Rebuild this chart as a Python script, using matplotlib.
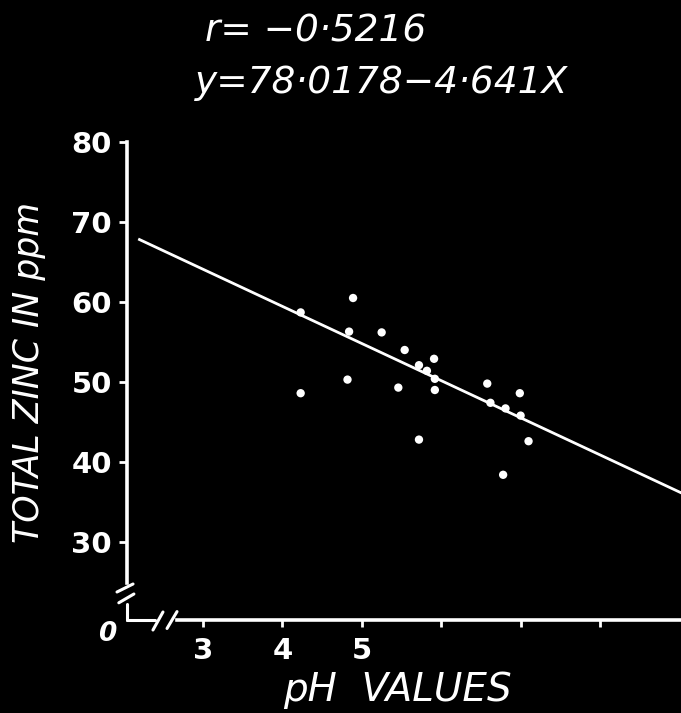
import matplotlib
matplotlib.use("Agg")
import matplotlib.pyplot as plt
import numpy as np

# ---- data ----
ph_values = [4.89, 4.23, 4.84, 5.25, 5.54, 5.91, 5.72, 5.82, 5.92, 4.82, 5.46,
             5.92, 4.23, 6.58, 6.99, 6.62, 6.81, 7.00, 5.72, 7.10, 6.78]
zinc_ppm = [60.5, 58.7, 56.3, 56.2, 54.0, 52.9, 52.1, 51.4, 50.4, 50.3, 49.3,
            49.0, 48.6, 49.8, 48.6, 47.4, 46.7, 45.8, 42.8, 42.6, 38.4]
intercept = 78.0178
slope = -4.641
r_value = -0.5216
line_x_range = [2.2, 9.1]
x_ticks = [3, 4, 5, 6, 7, 8]
x_tick_labels = ['3', '4', '5', '', '', '']
y_ticks = [30, 40, 50, 60, 70, 80]
y_tick_labels = ['30', '40', '50', '60', '70', '80']

W, H = 681, 713
fig = plt.figure(figsize=(W / 100, H / 100), dpi=100, facecolor='black')
ax = fig.add_axes([127 / W, 93 / H, (W - 127) / W, (620 - 142) / H])
ax.set_facecolor('black')
x0, x1 = 2.043, 9.02
y0, y1 = 20.25, 80
ax.set_xlim(x0, x1)
ax.set_ylim(y0, y1)

# regression line
lx = np.array(line_x_range)
ax.plot(lx, intercept + slope * lx, color='white', lw=2.0, clip_on=False, zorder=2)
# points
ax.scatter(ph_values, zinc_ppm, s=36, color='white', edgecolors='none', zorder=3)

# spines with breaks
for s in ['top', 'right']:
    ax.spines[s].set_visible(False)
ax.spines['left'].set_color('white')
ax.spines['bottom'].set_color('white')
ax.spines['left'].set_linewidth(2.6)
ax.spines['bottom'].set_linewidth(2.6)
ax.spines['left'].set_bounds(24.9, y1)
ax.spines['bottom'].set_bounds(2.673, x1)

kw = dict(color='white', lw=2.2, clip_on=False, solid_capstyle='round')
# short pieces at the corner
ax.plot([x0, x0], [y0, 22.2], **kw)
ax.plot([x0, 2.39], [y0, y0], **kw)
# break marks on y axis
ax.plot([1.917, 2.119], [23.75, 24.75], **kw)
ax.plot([1.94, 2.13], [22.4, 23.5], **kw)
# break marks on x axis
ax.plot([2.37, 2.496], [19.0, 21.25], **kw)
ax.plot([2.547, 2.673], [19.19, 21.3], **kw)

ax.set_xticks(x_ticks)
ax.set_xticklabels(x_tick_labels)
ax.set_yticks(y_ticks)
ax.set_yticklabels(y_tick_labels)
ax.tick_params(axis='x', colors='white', direction='out', length=5, width=2,
               labelsize=21, pad=7)
ax.tick_params(axis='y', colors='white', direction='out', length=6, width=2,
               labelsize=21, pad=5)
for lab in ax.get_xticklabels() + ax.get_yticklabels():
    lab.set_fontweight('bold')

ax.annotate('0', xy=(x0, y0), xytext=(-14, -10), textcoords='offset points',
            color='white', fontsize=19, style='italic', fontweight='bold',
            ha='center', va='center', annotation_clip=False)

fig.text(29 / W, 1 - 372 / H, 'TOTAL ZINC IN ppm', rotation=90, color='white',
         fontsize=25, style='italic', ha='center', va='center')
fig.text(397 / W, 1 - 690 / H, 'pH  VALUES', color='white', fontsize=28,
         style='italic', ha='center', va='center')

fig.text(205 / W, 1 - 32 / H, 'r= \u2212' + f'{abs(r_value):.4f}'.replace('.', '\u00b7'),
         color='white', fontsize=27, style='italic', ha='left', va='center')
fig.text(195 / W, 1 - 83 / H,
         'y=' + f'{intercept:.4f}'.replace('.', '\u00b7') + '\u2212'
         + f'{abs(slope):.3f}'.replace('.', '\u00b7') + 'X',
         color='white', fontsize=27, style='italic', ha='left', va='center')

fig.savefig('out.png', dpi=100, facecolor='black')
